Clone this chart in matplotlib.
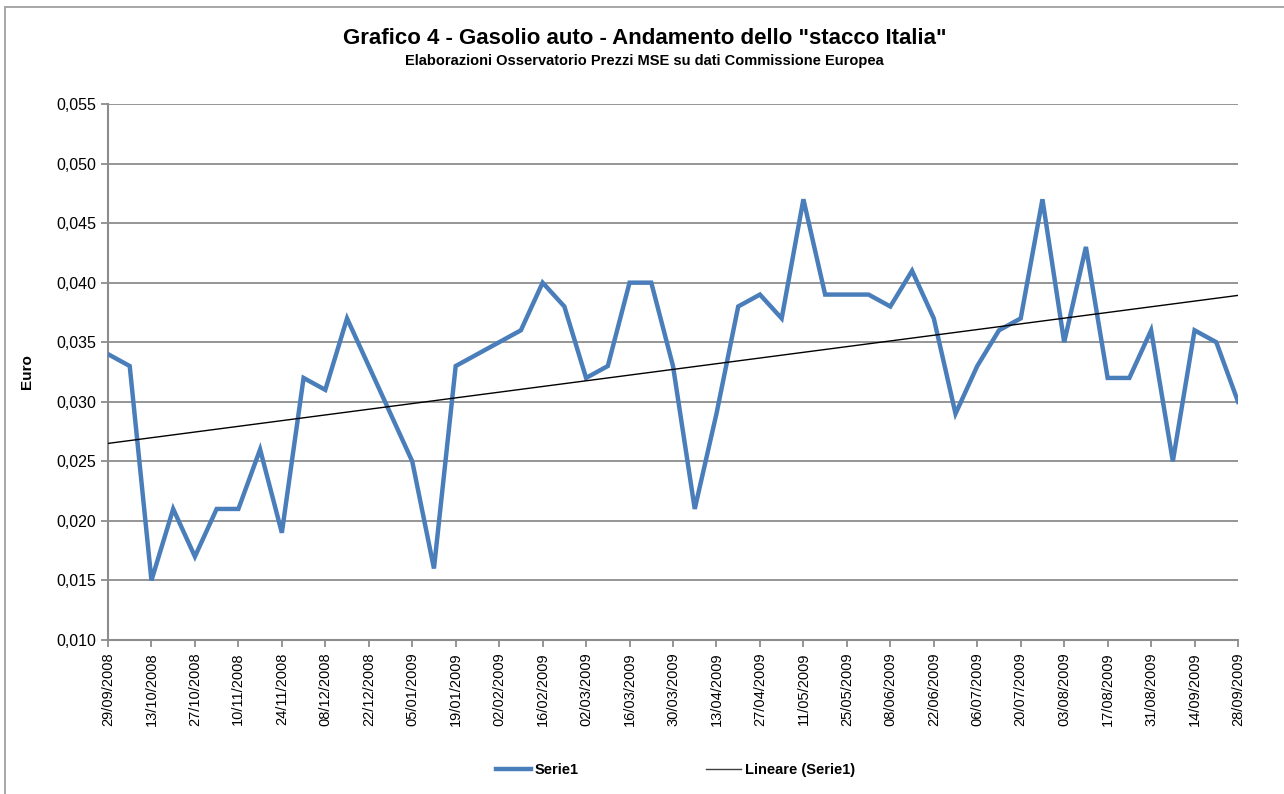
import numpy as np
import matplotlib
matplotlib.use('Agg')
import matplotlib.pyplot as plt
from matplotlib.patches import Rectangle

plt.rcParams['font.family'] = ['Liberation Sans', 'DejaVu Sans']

# weekly data, Monday dates 29/09/2008 - 28/09/2009
weeks = ['29/09/2008', '06/10/2008', '13/10/2008', '20/10/2008', '27/10/2008',
         '03/11/2008', '10/11/2008', '17/11/2008', '24/11/2008', '01/12/2008',
         '08/12/2008', '15/12/2008', '22/12/2008', '29/12/2008', '05/01/2009',
         '12/01/2009', '19/01/2009', '26/01/2009', '02/02/2009', '09/02/2009',
         '16/02/2009', '23/02/2009', '02/03/2009', '09/03/2009', '16/03/2009',
         '23/03/2009', '30/03/2009', '06/04/2009', '13/04/2009', '20/04/2009',
         '27/04/2009', '04/05/2009', '11/05/2009', '18/05/2009', '25/05/2009',
         '01/06/2009', '08/06/2009', '15/06/2009', '22/06/2009', '29/06/2009',
         '06/07/2009', '13/07/2009', '20/07/2009', '27/07/2009', '03/08/2009',
         '10/08/2009', '17/08/2009', '24/08/2009', '31/08/2009', '07/09/2009',
         '14/09/2009', '21/09/2009', '28/09/2009']
stacco = [0.034, 0.033, 0.015, 0.021, 0.017, 0.021, 0.021, 0.026, 0.019, 0.032,
          0.031, 0.037, 0.033, 0.029, 0.025, 0.016, 0.033, 0.034, 0.035, 0.036,
          0.040, 0.038, 0.032, 0.033, 0.040, 0.040, 0.033, 0.021, 0.029, 0.038,
          0.039, 0.037, 0.047, 0.039, 0.039, 0.039, 0.038, 0.041, 0.037, 0.029,
          0.033, 0.036, 0.037, 0.047, 0.035, 0.043, 0.032, 0.032, 0.036, 0.025,
          0.036, 0.035, 0.030]
y_ticks = [0.010, 0.015, 0.020, 0.025, 0.030, 0.035, 0.040, 0.045, 0.050, 0.055]

grid_col = '#8c8c8c'
blue = '#4a7ebb'

fig = plt.figure(figsize=(12.84, 7.94), dpi=100)
ax = fig.add_axes([0.0841, 0.194, 0.8801, 0.675])

# outer chart border (only left/top visible in the crop)
fig.patches.append(Rectangle((0.004, -0.05), 1.2, 1.041, transform=fig.transFigure,
                             fill=False, edgecolor='#a0a0a0', linewidth=1.3))

x = np.arange(len(stacco))
ax.plot(x, stacco, color=blue, linewidth=3.2, label='Serie1', zorder=3,
        solid_joinstyle='miter')

# linear trendline (least squares, as Excel)
coef = np.polyfit(x, stacco, 1)
ax.plot(x, np.polyval(coef, x), color='black', linewidth=1.0,
        label='Lineare (Serie1)', zorder=4)

ax.set_xlim(0, len(stacco) - 1)
ax.set_ylim(0.010, 0.055)
ax.set_yticks(y_ticks)
ax.set_yticklabels([f'{v:.3f}'.replace('.', ',') for v in y_ticks], fontsize=11.5)
ax.set_xticks(x[::2])
ax.set_xticklabels(weeks[::2], rotation=90, fontsize=10.5)
ax.tick_params(axis='both', colors=grid_col, labelcolor='black', length=5, width=1.3)
ax.tick_params(axis='x', pad=4)

ax.yaxis.grid(True, color=grid_col, linewidth=1.3)
ax.set_axisbelow(True)
for s in ['top', 'right']:
    ax.spines[s].set_visible(False)
for s in ['left', 'bottom']:
    ax.spines[s].set_color(grid_col)
    ax.spines[s].set_linewidth(1.5)

ax.set_ylabel('Euro', fontsize=11, fontweight='bold', labelpad=16)

fig.text(0.502, 0.951, 'Grafico 4 - Gasolio auto - Andamento dello "stacco Italia"',
         ha='center', va='center', fontsize=16, fontweight='bold')
fig.text(0.502, 0.923, 'Elaborazioni Osservatorio Prezzi MSE su dati Commissione Europea',
         ha='center', va='center', fontsize=10.5, fontweight='bold')

leg = fig.legend(loc='center', bbox_to_anchor=(0.526, 0.030), ncol=2, frameon=False,
                 fontsize=10.5, handlelength=2.4, columnspacing=8.7, handletextpad=0.3)
for t in leg.get_texts():
    t.set_fontweight('bold')
leg.get_lines()[1].set_color('#404040')

fig.savefig('out.png', dpi=100)
